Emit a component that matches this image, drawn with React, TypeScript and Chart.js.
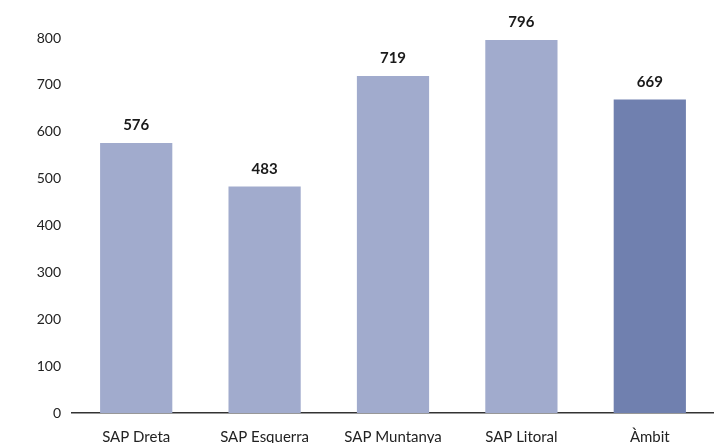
import React, { useEffect, useRef } from "react";
import { Chart, registerables } from "chart.js";

Chart.register(...registerables);

const categories = ["SAP Dreta", "SAP Esquerra", "SAP Muntanya", "SAP Litoral", "Àmbit"];
const values = [576, 483, 719, 796, 669];
const barColors = ["#A1ABCD", "#A1ABCD", "#A1ABCD", "#A1ABCD", "#7080AF"];
const yMin = 0;
const yMax = 800;
const yStep = 100;

const FONT = "Lato, 'Open Sans', sans-serif";

const valueLabels = {
  id: "valueLabels",
  afterDatasetsDraw(chart: any) {
    const ctx = chart.ctx;
    const meta = chart.getDatasetMeta(0);
    ctx.save();
    ctx.font = `bold 15px ${FONT}`;
    ctx.fillStyle = "#1a1a1a";
    ctx.textAlign = "center";
    ctx.textBaseline = "bottom";
    meta.data.forEach((bar: any, i: number) => {
      ctx.fillText(String(values[i]), bar.x, bar.y - 10);
    });
    ctx.restore();
  },
};

export default function App() {
  const ref = useRef<HTMLCanvasElement | null>(null);
  useEffect(() => {
    if (!ref.current) return;
    const chart = new Chart(ref.current, {
      type: "bar",
      data: {
        labels: categories,
        datasets: [
          {
            data: values,
            backgroundColor: barColors,
            borderWidth: 0,
            barPercentage: 0.5625,
            categoryPercentage: 1,
          },
        ],
      },
      options: {
        animation: false,
        responsive: false,
        maintainAspectRatio: false,
        layout: { padding: { top: 38, right: 0, left: 0, bottom: 0 } },
        plugins: { legend: { display: false }, tooltip: { enabled: false } },
        scales: {
          x: {
            grid: { display: false, drawTicks: false },
            border: { display: true, color: "#333333", width: 1.5 },
            ticks: {
              color: "#222222",
              font: { family: FONT, size: 15 },
              padding: 15,
              maxRotation: 0,
              autoSkip: false,
            },
            afterFit(scale: any) {
              scale.height = 30;
            },
          },
          y: {
            min: yMin,
            max: yMax,
            grid: { display: false, drawTicks: false },
            border: { display: false },
            ticks: {
              stepSize: yStep,
              color: "#222222",
              font: { family: FONT, size: 14 },
              padding: 11,
            },
            afterFit(scale: any) {
              scale.width = 72;
            },
          },
        },
      },
      plugins: [valueLabels],
    });
    return () => chart.destroy();
  }, []);
  return (
    <div style={{ position: "fixed", left: 0, top: 0, width: 714, height: 443, background: "#fff" }}>
      <canvas ref={ref} width={714} height={443} style={{ width: 714, height: 443 }} />
    </div>
  );
}
